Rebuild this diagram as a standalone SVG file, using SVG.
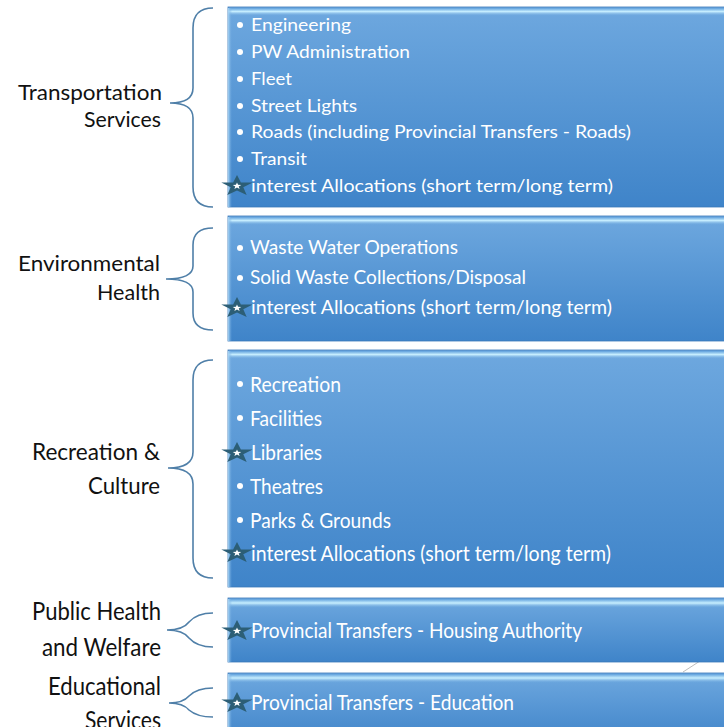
<svg xmlns="http://www.w3.org/2000/svg" xmlns:xlink="http://www.w3.org/1999/xlink" width="724" height="727" viewBox="0 0 724 727">
<defs>
<style>
.lbl{font-family:Lato,"Liberation Sans",sans-serif;fill:#111;text-anchor:end}
.it{font-family:Lato,"Liberation Sans",sans-serif;fill:#fff}
.br{fill:none;stroke:#4f7fa8;stroke-width:1.6}
.box{fill:url(#bg);stroke:#3a78b8;stroke-width:0.8}
.hl{fill:url(#hl)}
.le{fill:url(#le)}
</style>
<linearGradient id="bg" x1="0" y1="0" x2="0" y2="1">
<stop offset="0" stop-color="#6ea8df"/>
<stop offset="1" stop-color="#3f84c9"/>
</linearGradient>
<linearGradient id="hl" x1="0" y1="0" x2="0" y2="1">
<stop offset="0" stop-color="#5e9fdc"/>
<stop offset="0.45" stop-color="#c8efff"/>
<stop offset="1" stop-color="#6ea8df" stop-opacity="0"/>
</linearGradient>
<linearGradient id="le" x1="0" y1="0" x2="1" y2="0">
<stop offset="0" stop-color="#a9d6f5"/>
<stop offset="1" stop-color="#6ea8df" stop-opacity="0"/>
</linearGradient>
<g id="star">
<polygon transform="scale(1.65,1.1)" fill="#2c5e76" points="0,-10 2.35,-3.24 9.51,-3.09 3.8,1.24 5.88,8.09 0,4 -5.88,8.09 -3.8,1.24 -9.51,-3.09 -2.35,-3.24"/>
<polygon transform="scale(0.45,0.36)" fill="#fff" points="0,-10 2.35,-3.24 9.51,-3.09 3.8,1.24 5.88,8.09 0,4 -5.88,8.09 -3.8,1.24 -9.51,-3.09 -2.35,-3.24"/>
</g>
<circle id="bul" r="3" fill="#fff"/>
</defs>
<rect width="724" height="727" fill="#fff"/>

<g id="connectors">
<path class="br" d="M213,8 Q193,8 193,28 L193,88 Q193,103 170,103 Q193,103 193,118 L193,187 Q193,207 213,207"/>
<path class="br" d="M213,228 Q193,228 193,245 L193,266 Q193,279 166,279 Q193,279 193,292 L193,313 Q193,330 213,330"/>
<path class="br" d="M213,360 Q193,360 193,380 L193,452 Q193,468 168,468 Q193,468 193,484 L193,558 Q193,578 213,578"/>
<path class="br" d="M213,613 Q197,613 189,622 Q183,630 167,630 Q183,630 189,638 Q197,647 213,647"/>
<path class="br" d="M213,688 Q197,688 189,696 Q183,703 169,703 Q183,703 189,710 Q197,717 213,717"/>
<line x1="683" y1="672" x2="700" y2="661" stroke="#bdbdbd" stroke-width="1"/>
</g>

<g id="transportation">
<text class="lbl" font-size="21"><tspan x="162" y="100" textLength="144" lengthAdjust="spacingAndGlyphs">Transportation</tspan><tspan x="161" y="127" textLength="77" lengthAdjust="spacingAndGlyphs">Services</tspan></text>
<rect class="box" x="228" y="7" width="520" height="200"/>
<rect class="hl" x="228" y="8" width="520" height="8"/>
<rect class="le" x="228" y="8" width="4" height="199"/>
<g class="it" font-size="18">
<use href="#bul" x="240" y="25"/><text x="251" y="31" textLength="100" lengthAdjust="spacingAndGlyphs">Engineering</text>
<use href="#bul" x="240" y="52"/><text x="251" y="58" textLength="159" lengthAdjust="spacingAndGlyphs">PW Administration</text>
<use href="#bul" x="240" y="79"/><text x="251" y="85" textLength="41" lengthAdjust="spacingAndGlyphs">Fleet</text>
<use href="#bul" x="240" y="106"/><text x="251" y="112" textLength="106" lengthAdjust="spacingAndGlyphs">Street Lights</text>
<use href="#bul" x="240" y="132"/><text x="251" y="138" textLength="380" lengthAdjust="spacingAndGlyphs">Roads (including Provincial Transfers - Roads)</text>
<use href="#bul" x="240" y="159"/><text x="251" y="165" textLength="56" lengthAdjust="spacingAndGlyphs">Transit</text>
<use href="#star" x="237" y="186"/><text x="251" y="192" textLength="362" lengthAdjust="spacingAndGlyphs">interest Allocations (short term/long term)</text>
</g>
</g>

<g id="environmental">
<text class="lbl" font-size="21"><tspan x="160" y="271" textLength="142" lengthAdjust="spacingAndGlyphs">Environmental</tspan><tspan x="160" y="300" textLength="63" lengthAdjust="spacingAndGlyphs">Health</tspan></text>
<rect class="box" x="228" y="216" width="520" height="125"/>
<rect class="hl" x="228" y="217" width="520" height="8"/>
<rect class="le" x="228" y="217" width="4" height="124"/>
<g class="it" font-size="19">
<use href="#bul" x="240" y="248"/><text x="250" y="254" textLength="208" lengthAdjust="spacingAndGlyphs">Waste Water Operations</text>
<use href="#bul" x="240" y="278"/><text x="250" y="284" textLength="276" lengthAdjust="spacingAndGlyphs">Solid Waste Collections/Disposal</text>
<use href="#star" x="237" y="308"/><text x="251" y="314" textLength="361" lengthAdjust="spacingAndGlyphs">interest Allocations (short term/long term)</text>
</g>
</g>

<g id="recreation">
<text class="lbl" font-size="24"><tspan x="160" y="460" textLength="128" lengthAdjust="spacingAndGlyphs">Recreation &amp;</tspan><tspan x="160" y="494" textLength="72" lengthAdjust="spacingAndGlyphs">Culture</tspan></text>
<rect class="box" x="228" y="350" width="520" height="237"/>
<rect class="hl" x="228" y="351" width="520" height="8"/>
<rect class="le" x="228" y="351" width="4" height="236"/>
<g class="it" font-size="22">
<use href="#bul" x="240" y="384"/><text x="250" y="392" textLength="91" lengthAdjust="spacingAndGlyphs">Recreation</text>
<use href="#bul" x="240" y="418"/><text x="250" y="426" textLength="72" lengthAdjust="spacingAndGlyphs">Facilities</text>
<use href="#star" x="237" y="453"/><text x="251" y="460" textLength="71" lengthAdjust="spacingAndGlyphs">Libraries</text>
<use href="#bul" x="240" y="486"/><text x="250" y="494" textLength="73" lengthAdjust="spacingAndGlyphs">Theatres</text>
<use href="#bul" x="240" y="520"/><text x="250" y="528" textLength="141" lengthAdjust="spacingAndGlyphs">Parks &amp; Grounds</text>
<use href="#star" x="237" y="553"/><text x="251" y="561" textLength="360" lengthAdjust="spacingAndGlyphs">interest Allocations (short term/long term)</text>
</g>
</g>

<g id="public-health">
<text class="lbl" font-size="25"><tspan x="161" y="620" textLength="129" lengthAdjust="spacingAndGlyphs">Public Health</tspan><tspan x="161" y="656" textLength="119" lengthAdjust="spacingAndGlyphs">and Welfare</tspan></text>
<rect class="box" x="228" y="598" width="520" height="64"/>
<rect class="hl" x="228" y="599" width="520" height="9"/>
<rect class="le" x="228" y="599" width="4" height="63"/>
<g class="it" font-size="22">
<use href="#star" x="237" y="631"/><text x="251" y="638" textLength="331" lengthAdjust="spacingAndGlyphs">Provincial Transfers - Housing Authority</text>
</g>
</g>

<g id="educational">
<text class="lbl" font-size="25"><tspan x="161" y="695" textLength="113" lengthAdjust="spacingAndGlyphs">Educational</tspan><tspan x="161" y="729" textLength="76" lengthAdjust="spacingAndGlyphs">Services</tspan></text>
<rect class="box" x="228" y="673" width="520" height="70"/>
<rect class="hl" x="228" y="674" width="520" height="9"/>
<rect class="le" x="228" y="674" width="4" height="60"/>
<g class="it" font-size="22">
<use href="#star" x="237" y="703"/><text x="251" y="710" textLength="263" lengthAdjust="spacingAndGlyphs">Provincial Transfers - Education</text>
</g>
</g>
</svg>
